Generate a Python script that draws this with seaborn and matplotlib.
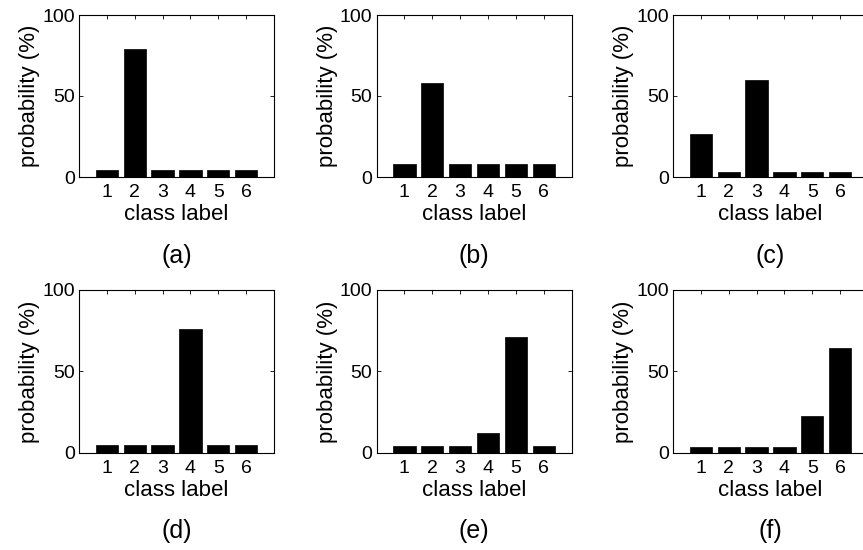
import matplotlib
matplotlib.use("Agg")
import matplotlib.pyplot as plt
import seaborn as sns
import pandas as pd

sns.set_theme(style="white")
plt.rcParams['font.family'] = ['Liberation Sans', 'DejaVu Sans']

class_labels = ["1", "2", "3", "4", "5", "6"]
prob_a = [4.2, 79.2, 4.2, 4.2, 4.2, 4.2]
prob_b = [8.3, 58.3, 8.3, 8.3, 8.3, 8.3]
prob_c = [26.5, 3.2, 60.0, 3.2, 3.2, 3.2]
prob_d = [4.8, 4.8, 4.8, 75.8, 4.8, 4.8]
prob_e = [4.2, 4.2, 4.2, 12.4, 71.3, 4.2]
prob_f = [3.4, 3.4, 3.4, 3.4, 22.7, 64.2]
panel_names = ["(a)", "(b)", "(c)", "(d)", "(e)", "(f)"]
y_ticks = [0, 50, 100]

W, H = 863, 550
fig = plt.figure(figsize=(W / 100, H / 100), dpi=100)

col_left = [79, 376.5, 673]
ax_w = 195
row_top = [15, 290]
row_bot = [177, 452.7]
label_y = [256, 531]

series = [prob_a, prob_b, prob_c, prob_d, prob_e, prob_f]
for i, vals in enumerate(series):
    r, c = divmod(i, 3)
    left = col_left[c] / W
    bottom = 1 - row_bot[r] / H
    height = (row_bot[r] - row_top[r]) / H
    ax = fig.add_axes([left, bottom, ax_w / W, height])
    df = pd.DataFrame({"cls": class_labels, "p": vals})
    sns.barplot(data=df, x="cls", y="p", color="black", saturation=1,
                width=0.8, edgecolor="black", linewidth=0.5, ax=ax)
    ax.set_xlim(-1, 6)
    ax.set_ylim(0, 100)
    ax.set_yticks(y_ticks)
    ax.set_yticklabels([str(t) for t in y_ticks])
    ax.tick_params(axis="both", direction="in", length=3, width=0.6,
                   top=True, right=True, bottom=True, left=True,
                   labelsize=14, colors="black")
    ax.tick_params(axis="x", pad=5)
    ax.tick_params(axis="y", pad=3)
    for s in ax.spines.values():
        s.set_visible(True)
        s.set_color("black")
        s.set_linewidth(0.8)
    ax.set_xlabel("class label", fontsize=16, color="black")
    ax.set_ylabel("probability (%)", fontsize=16, color="black")
    ax.xaxis.set_label_coords(0.5, -0.165)
    ax.yaxis.set_label_coords(-0.20, 0.5)
    xc = (col_left[c] + ax_w / 2) / W
    fig.text(xc, 1 - label_y[r] / H, panel_names[i], ha="center", va="center",
             fontsize=18, color="black")

fig.savefig("out.png", dpi=100, facecolor="white")
